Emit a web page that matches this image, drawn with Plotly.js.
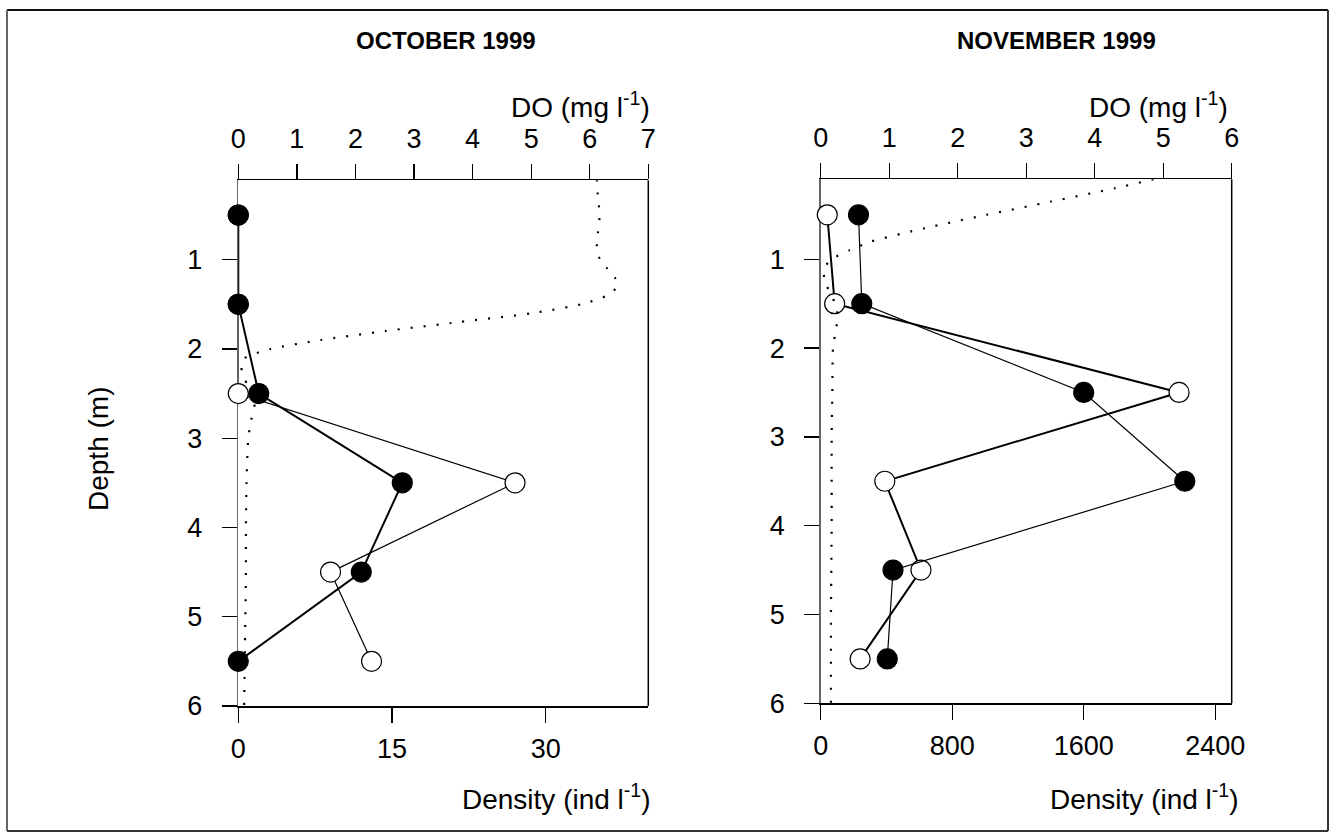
<!DOCTYPE html>
<html>
<head>
<meta charset="utf-8">
<script src="https://cdn.plot.ly/plotly-3.0.1.min.js"></script>
<style>html,body{margin:0;padding:0;background:#fff;}#chart{width:1335px;height:838px;}</style>
</head>
<body>
<div id="chart"></div>
<script>
// ---- Data ----
const depth = [0.5, 1.5, 2.5, 3.5, 4.5, 5.5];

// October 1999 densities (ind l-1)
const octFilled = [0, 0, 2, 16, 12, 0];
const octOpen = [0, 0, 0, 27, 9, 13];

// November 1999 densities (ind l-1)
const novFilled = [230, 250, 1600, 2215, 440, 405];
const novOpen = [40, 85, 2180, 390, 610, 240];

// Dissolved oxygen profiles (mg l-1)
const octDODepth = [0.1, 0.3, 0.5, 0.7, 0.9, 1.0, 1.1, 1.2, 1.3, 1.4, 1.5, 1.6, 1.7, 1.8, 1.9, 2.0, 2.1, 2.2, 2.4, 2.6, 2.8, 3.0, 3.5, 4.0, 4.5, 5.0, 5.5, 6.0];
const octDO = [6.12, 6.14, 6.17, 6.14, 6.12, 6.18, 6.3, 6.43, 6.47, 6.3, 5.85, 5.0, 3.75, 2.5, 1.4, 0.55, 0.12, 0.05, 0.15, 0.28, 0.22, 0.17, 0.14, 0.13, 0.13, 0.12, 0.11, 0.1];

const novDODepth = [0.1, 0.2, 0.35, 0.5, 0.65, 0.8, 0.9, 1.0, 1.1, 1.2, 1.3, 1.5, 1.65, 1.8, 2.0, 2.5, 3.0, 4.0, 5.0, 6.0];
const novDO = [4.86, 4.3, 3.37, 2.42, 1.52, 0.74, 0.42, 0.16, 0.05, 0.05, 0.09, 0.21, 0.25, 0.22, 0.18, 0.17, 0.16, 0.16, 0.15, 0.15];

// Tick labels
const depthTicks = [1, 2, 3, 4, 5, 6];
const octDensityTicks = [0, 15, 30];
const novDensityTicks = [0, 800, 1600, 2400];
const octDOTicks = [0, 1, 2, 3, 4, 5, 6, 7];
const novDOTicks = [0, 1, 2, 3, 4, 5, 6];

const titles = ['OCTOBER 1999', 'NOVEMBER 1999'];

// ---- Styling helpers ----
const W = 1335, H = 838;
const px = v => v / W;
const py = v => 1 - v / H;
const FONT = 'Liberation Sans, Arial, sans-serif';
const tickFont = {family: FONT, size: 27, color: '#000'};

function dens(x, y, filled, lw, xa, ya) {
  return {
    x: x, y: y, xaxis: xa, yaxis: ya, type: 'scatter', mode: 'lines+markers',
    cliponaxis: false, hoverinfo: 'skip', showlegend: false,
    line: {color: '#000', width: lw},
    marker: {symbol: 'circle', size: 20, color: filled ? '#000' : '#fff', line: {color: '#000', width: 1.2}}
  };
}
function doTrace(x, y, xa, ya) {
  return {
    x: x, y: y, xaxis: xa, yaxis: ya, type: 'scatter', mode: 'lines',
    hoverinfo: 'skip', showlegend: false,
    line: {color: '#000', width: 2.2, dash: '2px,11px', shape: 'spline', smoothing: 0.6}
  };
}

const traces = [
  dens(octOpen, depth, false, 1.2, 'x', 'y'),
  dens(octFilled, depth, true, 2, 'x', 'y'),
  doTrace(octDO, octDODepth, 'x2', 'y'),
  dens(novOpen, depth, false, 2, 'x3', 'y2'),
  dens(novFilled, depth, true, 1.2, 'x3', 'y2'),
  doTrace(novDO, novDODepth, 'x4', 'y2')
];

function xAxis(domain, range, ticks, anchor) {
  return {
    domain: domain, range: range, anchor: anchor, tickvals: ticks, ticktext: ticks.map(String),
    ticks: 'outside', ticklen: 15, tickwidth: 1.3, tickcolor: '#000',
    showline: true, linecolor: '#000', linewidth: 1.5, showgrid: false, zeroline: false,
    tickfont: tickFont, ticklabelstandoff: 3, layer: 'below traces', fixedrange: true
  };
}
function doAxis(overlay, range, ticks, anchor) {
  return {
    overlaying: overlay, side: 'top', range: range, anchor: anchor, tickvals: ticks, ticktext: ticks.map(String),
    ticks: 'outside', ticklen: 15, tickwidth: 1.3, tickcolor: '#000',
    showline: true, linecolor: '#000', linewidth: 1.5, showgrid: false, zeroline: false,
    tickfont: tickFont, ticklabelstandoff: 5, layer: 'below traces', fixedrange: true
  };
}
function yAxis(domain, range, anchor) {
  return {
    domain: domain, range: range, anchor: anchor, tickvals: depthTicks, ticktext: depthTicks.map(String),
    ticks: 'outside', ticklen: 15, tickwidth: 1.3, tickcolor: '#000',
    showline: true, linecolor: '#666', linewidth: 1.5, showgrid: false, zeroline: false,
    tickfont: tickFont, ticklabelstandoff: 14, layer: 'below traces', fixedrange: true
  };
}

const leftX = [px(238.3), px(648.3)];
const rightX = [px(820.7), px(1231.7)];
const leftY = [py(706), py(180.3)];
const rightY = [py(703.3), py(179.3)];

function ann(text, x, y, xanchor, size, bold, angle) {
  return {
    text: bold ? '<b>' + text + '</b>' : text, xref: 'paper', yref: 'paper', x: x, y: y,
    xanchor: xanchor, yanchor: 'middle', showarrow: false, textangle: angle || 0,
    font: {family: FONT, size: size, color: '#000'}
  };
}

const layout = {
  width: W, height: H, margin: {l: 0, r: 0, t: 0, b: 0},
  paper_bgcolor: '#fff', plot_bgcolor: '#fff', showlegend: false,
  xaxis: xAxis(leftX, [0, 40], octDensityTicks, 'y'),
  xaxis2: doAxis('x', [0, 7], octDOTicks, 'y'),
  xaxis3: xAxis(rightX, [0, 2500], novDensityTicks, 'y2'),
  xaxis4: doAxis('x3', [0, 6], novDOTicks, 'y2'),
  yaxis: yAxis(leftY, [6, 0.11], 'x'),
  yaxis2: yAxis(rightY, [6, 0.10], 'x3'),
  annotations: [
    ann(titles[0], px(446), py(41), 'center', 24, true),
    ann(titles[1], px(1056), py(41), 'center', 24, true),
    ann('DO (mg l<sup>-1</sup>)', px(652), py(105), 'right', 28, false),
    ann('DO (mg l<sup>-1</sup>)', px(1230), py(105), 'right', 28, false),
    ann('Density (ind l<sup>-1</sup>)', px(653), py(797), 'right', 28, false),
    ann('Density (ind l<sup>-1</sup>)', px(1241), py(797), 'right', 28, false),
    ann('Depth (m)', px(98), py(449), 'center', 28, false, -90)
  ],
  shapes: [
    // right spines of the two panels
    {type: 'line', xref: 'x domain', yref: 'y domain', x0: 1, x1: 1, y0: 0, y1: 1, line: {color: '#000', width: 1.5}},
    {type: 'line', xref: 'x3 domain', yref: 'y2 domain', x0: 1, x1: 1, y0: 0, y1: 1, line: {color: '#000', width: 1.5}},
    // outer frame
    {type: 'line', xref: 'paper', yref: 'paper', x0: px(7), x1: px(1328), y0: py(10), y1: py(10), line: {color: '#111', width: 2}},
    {type: 'line', xref: 'paper', yref: 'paper', x0: px(7), x1: px(7), y0: py(10), y1: py(831), line: {color: '#666', width: 2}},
    {type: 'line', xref: 'paper', yref: 'paper', x0: px(1328), x1: px(1328), y0: py(10), y1: py(831), line: {color: '#333', width: 2}},
    {type: 'line', xref: 'paper', yref: 'paper', x0: px(7), x1: px(1328), y0: py(831), y1: py(831), line: {color: '#333', width: 2}}
  ]
};

Plotly.newPlot('chart', traces, layout, {displayModeBar: false, staticPlot: true});
</script>
</body>
</html>
